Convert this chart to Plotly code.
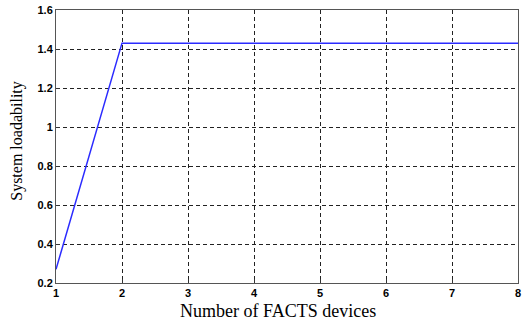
import plotly.graph_objects as go

# Number of FACTS devices vs. resulting system loadability
n_devices = [1, 2, 3, 4, 5, 6, 7, 8]
loadability = [0.27, 1.43, 1.43, 1.43, 1.43, 1.43, 1.43, 1.43]

x_ticks = [1, 2, 3, 4, 5, 6, 7, 8]
y_ticks = [0.2, 0.4, 0.6, 0.8, 1.0, 1.2, 1.4, 1.6]
y_ticktext = ["0.2", "0.4", "0.6", "0.8", "1", "1.2", "1.4", "1.6"]

x_title = "Number of FACTS devices"
y_title = "System loadability"

fig = go.Figure()
fig.add_trace(go.Scatter(
    x=n_devices, y=loadability, mode="lines",
    line=dict(color="#2b2bff", width=1.5),
    showlegend=False, hoverinfo="skip",
))

tick_font = dict(family="Liberation Sans", size=11, color="black", weight="bold")

axis_style = dict(
    tickfont=tick_font,
    showgrid=True, gridcolor="#222", griddash="4px,3px", gridwidth=1,
    showline=True, linecolor="#555", linewidth=1, mirror=True,
    ticks="inside", ticklen=4, tickcolor="#333",
    zeroline=False,
)

fig.update_layout(
    width=523, height=320,
    margin=dict(l=56, r=2, t=10, b=37),
    paper_bgcolor="white", plot_bgcolor="white",
    xaxis=dict(range=[1, 8], tickvals=x_ticks, ticklabeloverflow="allow", **axis_style),
    yaxis=dict(range=[0.2, 1.6], tickvals=y_ticks, ticktext=y_ticktext, **axis_style),
)

# Axis titles placed as annotations
fig.add_annotation(
    text=x_title, xref="paper", yref="paper", x=0.4807, y=-0.058,
    xanchor="center", yanchor="top", showarrow=False,
    font=dict(family="Liberation Serif", size=18, color="black"),
)
fig.add_annotation(
    text=y_title, xref="paper", yref="paper", x=-0.085, y=0.52,
    xanchor="center", yanchor="middle", showarrow=False, textangle=-90,
    font=dict(family="Liberation Serif", size=16, color="black"),
)

fig.write_html("out.html")
